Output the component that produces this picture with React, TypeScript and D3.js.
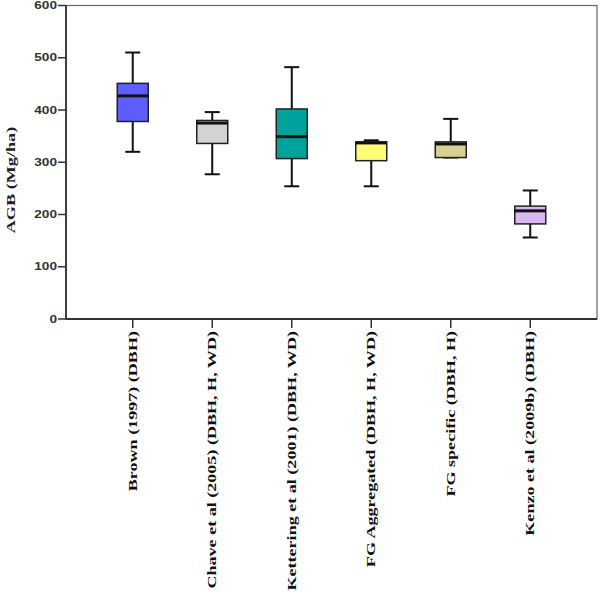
import React from "react";
import * as d3 from "d3";

const categories = [
  "Brown (1997) (DBH)",
  "Chave et al (2005) (DBH, H, WD)",
  "Kettering et al (2001) (DBH, WD)",
  "FG Aggregated (DBH, H, WD)",
  "FG specific (DBH, H)",
  "Kenzo et al (2009b) (DBH)",
];
const whiskerLow = [320, 277, 254, 254, 309, 156];
const q1 = [378, 336, 307, 303, 309, 182];
const median = [427, 375, 349, 337, 335, 207];
const q3 = [451, 380, 402, 339, 339, 216];
const whiskerHigh = [510, 396, 482, 342, 383, 246];
const colors = ["#5e5eff", "#d3d3d3", "#00a39c", "#fdfd75", "#d8d08e", "#dab7f0"];
const yTicks = [0, 100, 200, 300, 400, 500, 600];

export default function App() {
  const left = 66, right = 597, top = 5.5, bottom = 319;
  const y = d3.scaleLinear().domain([0, 600]).range([bottom, top]);
  const x = d3.scaleBand().domain(categories).range([93, 570]);
  const boxW = 31;
  const capW = 15;
  return (
    <svg width={600} height={601} style={{ position: "absolute", left: 0, top: 0, background: "#fff" }}>
      <rect x={left} y={top} width={right - left} height={bottom - top} fill="none" stroke="#666" strokeWidth={1.2} />
      <line x1={left} x2={left} y1={top} y2={bottom} stroke="#333" strokeWidth={1.8} />
      <line x1={left} x2={right} y1={bottom} y2={bottom} stroke="#333" strokeWidth={1.8} />
      {yTicks.map((t) => (
        <g key={t}>
          <line x1={left - 8} x2={left} y1={y(t)} y2={y(t)} stroke="#333" strokeWidth={1.5} />
          <text transform={`translate(${left - 9},${y(t)}) scale(1.3,1)`} dy="0.35em" textAnchor="end" fontFamily="Liberation Sans, Arial, sans-serif" fontWeight="bold" fontSize={10.5} fill="#333">{t}</text>
        </g>
      ))}
      <text transform={`translate(15,180) rotate(-90) scale(1.4,1)`} textAnchor="middle" fontFamily="Liberation Serif, Times New Roman, serif" fontWeight="bold" fontSize={13} fill="#222">AGB (Mg/ha)</text>
      {categories.map((c, i) => {
        const cx = (x(c) as number) + x.bandwidth() / 2;
        return (
          <g key={c}>
            <line x1={cx} x2={cx} y1={bottom} y2={bottom + 9} stroke="#333" strokeWidth={1.5} />
            <text transform={`translate(${cx + 4},${bottom + 12}) rotate(-90) scale(1.39,1)`} textAnchor="end" fontFamily="Liberation Serif, Times New Roman, serif" fontWeight="bold" fontSize={13} fill="#111">{c}</text>
            <line x1={cx} x2={cx} y1={y(whiskerHigh[i])} y2={y(q3[i])} stroke="#111" strokeWidth={2} />
            <line x1={cx} x2={cx} y1={y(q1[i])} y2={y(whiskerLow[i])} stroke="#111" strokeWidth={2} />
            <line x1={cx - capW / 2} x2={cx + capW / 2} y1={y(whiskerHigh[i])} y2={y(whiskerHigh[i])} stroke="#111" strokeWidth={2} />
            <line x1={cx - capW / 2} x2={cx + capW / 2} y1={y(whiskerLow[i])} y2={y(whiskerLow[i])} stroke="#111" strokeWidth={2} />
            <rect x={cx - boxW / 2} y={y(q3[i])} width={boxW} height={y(q1[i]) - y(q3[i])} fill={colors[i]} stroke="#222" strokeWidth={1.5} />
            <line x1={cx - boxW / 2} x2={cx + boxW / 2} y1={y(median[i])} y2={y(median[i])} stroke="#111" strokeWidth={3} />
          </g>
        );
      })}
    </svg>
  );
}
